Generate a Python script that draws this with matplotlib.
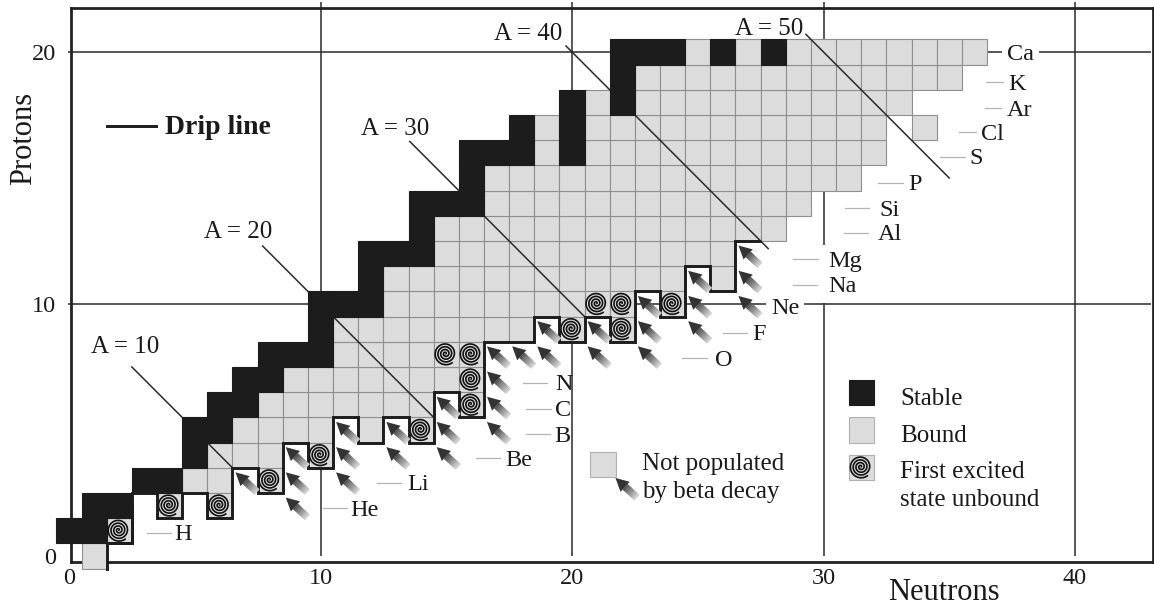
"""Chart of light nuclei: stable, bound and drip-line cells on an N-Z grid."""

import matplotlib

matplotlib.use("Agg")
import matplotlib.pyplot as plt
import numpy as np
from matplotlib.patches import Polygon, Rectangle

plt.rcParams["font.family"] = ["Liberation Serif", "DejaVu Serif"]

W, H = 1154, 609

# cells per proton number Z (list index = Z), values are neutron numbers
stable_n = [
    [], [0, 1], [1, 2], [3, 4], [5], [5, 6], [6, 7], [7, 8], [8, 9, 10], [10],
    [10, 11, 12], [12], [12, 13, 14], [14], [14, 15, 16], [16], [16, 17, 18, 20],
    [18, 20], [20, 22], [22], [22, 23, 24, 26, 28],
]
# (first, last) neutron spans
bound_spans = [
    [(1, 1)], [], [], [(5, 6)], [(6, 8)], [(7, 10), (12, 12)], [(8, 14)], [(9, 15)],
    [(11, 14)], [(11, 18)], [(13, 20)], [(13, 24), (26, 26)], [(15, 26)], [(15, 28)],
    [(17, 29)], [(17, 31)], [(19, 19), (21, 32)], [(19, 19), (21, 32), (34, 34)],
    [(21, 21), (23, 33)], [(23, 35)], [(25, 25), (27, 27), (29, 36)],
]
unbound_n = [
    [], [2], [4, 6], [8], [10], [14], [16], [16], [15, 16], [20, 22], [21, 22, 24],
]
arrow_n = [7, 9, 9, 9, 11, 11, 11, 13, 13, 15, 15, 15, 17, 17, 17, 17, 18, 19, 19,
           21, 21, 23, 23, 23, 25, 25, 25, 27, 27, 27]
arrow_z = [3, 4, 3, 2, 5, 4, 3, 5, 4, 6, 5, 4, 8, 7, 6, 5, 8, 8, 9,
           9, 8, 10, 9, 8, 11, 10, 9, 12, 11, 10]

mass_numbers = [10, 20, 30, 40, 50]
mass_start_n = [2.5, 7.7, 13.55, 19.76, 29.3]
mass_end_n = [6.5, 14.5, 20.5, 27.8, 35.0]

ticks_n = [0, 10, 20, 30, 40]
ticks_z = [0, 10, 20]

# element name, label position and leader span, all in picture pixels
elements = ["H", "He", "Li", "Be", "B", "C", "N", "O", "F", "Na", "Mg", "Al", "Si", "P", "S", "Cl", "Ar", "K"]
label_x = [174, 350, 407, 505, 554, 555, 555, 715, 752, 828, 828, 878, 879, 908, 969, 981, 1007, 1008]
label_y = [533, 508, 483, 458, 434, 409, 383, 358, 333, 285, 259, 233, 208, 183, 157, 132, 108, 82]
leader_x0 = [147, 323, 377, 476, 526, 526, 523, 682, 723, 793, 793, 844, 845, 878, 940, 959, 985, 986]
leader_x1 = [171, 347, 401, 500, 550, 551, 547, 707, 747, 817, 818, 868, 869, 903, 965, 976, 1001, 1003]

COL = {
    "stable": "#1c1c1c",
    "bound": "#dcdcdc",
    "cell": "#8f8f8f",
    "line": "#2a2a2a",
    "leader": "#b4b4b4",
}

fig = plt.figure(figsize=(W / 100, H / 100), dpi=100, facecolor="white")
ax = fig.add_axes([71 / W, 1 - 561.7 / H, (1152.6 - 71) / W, (561.7 - 8) / H])


def _d(px, py):
    """Picture pixels to data coordinates."""
    return (px - 69) / 25.15, (556 - py) / 25.2


def _cell(ax, n, z, fc, ec, zorder):
    ax.add_patch(Rectangle((n - 0.5, z - 0.5), 1, 1, facecolor=fc, edgecolor=ec,
                           linewidth=0.8, clip_on=False, zorder=zorder))


def _spiral(ax, n, z):
    t = np.linspace(0, 4.1 * 2 * np.pi, 400)
    r = 0.45 * t / t[-1]
    a = t + np.deg2rad(-50) - t[-1]
    ax.plot(n - 0.03 + r * np.cos(a), z + 0.03 + r * np.sin(a), color="#111111", lw=1.2,
            clip_on=False, zorder=5, solid_capstyle="butt")


def _arrow(ax, n, z):
    tip = np.array([n - 0.38, z + 0.32])
    tail = np.array([n + 0.47, z - 0.46])
    u = (tip - tail) / np.linalg.norm(tip - tail)
    v = np.array([-u[1], u[0]])
    length = np.linalg.norm(tip - tail)
    base = tip - 0.52 * u
    ax.add_patch(Polygon([tip, base + 0.27 * v, base - 0.27 * v], closed=True,
                         facecolor="#333333", edgecolor="none", zorder=7, clip_on=False))
    steps = np.linspace(0, length - 0.52, 13)
    shades = np.linspace(0.30, 0.82, 12)
    for s0, s1, g in zip(steps[:-1], steps[1:], shades):
        p0, p1 = base - s0 * u, base - s1 * u
        ax.add_patch(Polygon([p0 + 0.14 * v, p1 + 0.14 * v, p1 - 0.14 * v, p0 - 0.14 * v],
                             closed=True, facecolor=str(g), edgecolor=str(g), linewidth=0.3,
                             zorder=7, clip_on=False))


def _txt(px, py, s, fs=18, ha="left", **kw):
    x, y = _d(px, py + 2)
    return ax.text(x, y, s, fontsize=fs, ha=ha, va="center", color="#1a1a1a", zorder=8,
                   clip_on=False, **kw)


# frame and coarse grid
for sp in ax.spines.values():
    sp.set_linewidth(2.0)
    sp.set_color("#222222")
    sp.set_zorder(1.5)
ax.set_facecolor("white")
ax.set_xticks([])
ax.set_yticks(ticks_z)
ax.tick_params(length=0, labelsize=17.5, labelcolor="#1a1a1a")
ax.tick_params(axis="y", pad=11)
ax.set_xlim((71 - 69) / 25.15, (1152.6 - 69) / 25.15)
ax.set_ylim((556 - 561.7) / 25.2, (556 - 8) / 25.2)
for n in ticks_n:
    ax.text(n, _d(0, 578)[1], str(n), fontsize=17.5, ha="center", va="center", color="#1a1a1a",
            clip_on=False)
ax.vlines(ticks_n[1:], 0, _d(0, 2)[1], color=COL["line"], lw=1.1, zorder=1, clip_on=False)
ax.hlines(ticks_z[1:], _d(68, 0)[0], _d(1151, 0)[0], color=COL["line"], lw=1.1, zorder=1, clip_on=False)

# nuclide cells
for z, spans in enumerate(bound_spans):
    for first, last in spans:
        for n in range(first, last + 1):
            _cell(ax, n, z, COL["bound"], COL["cell"], 2)
for z, row in enumerate(unbound_n):
    for n in row:
        _cell(ax, n, z, COL["bound"], COL["cell"], 2)
        _spiral(ax, n, z)
for z, row in enumerate(stable_n):
    for n in row:
        _cell(ax, n, z, COL["stable"], COL["stable"], 4)

# mass number lines
for a, n0, n1 in zip(mass_numbers, mass_start_n, mass_end_n):
    ax.plot([n0, n1], [a - n0, a - n1], color=COL["line"], lw=1.1, zorder=3, clip_on=False)

# drip line: lower edge of the lowest populated cell in each column
filled = {}
for z, row in enumerate(stable_n):
    for n in row:
        filled.setdefault(n, []).append(z)
for z, spans in enumerate(bound_spans):
    for first, last in spans:
        for n in range(first, last + 1):
            filled.setdefault(n, []).append(z)
for z, row in enumerate(unbound_n):
    for n in row:
        filled.setdefault(n, []).append(z)
drip_columns = list(range(2, 28))
drip_floor = [min(filled[n]) - 0.5 for n in drip_columns]
ax.stairs(drip_floor, np.array(drip_columns + [28]) - 0.5, baseline=None, color="#1c1c1c",
          lw=2.1, zorder=6, clip_on=False)
ax.plot([1.5, 1.5, 2.5], [-0.5, 0.5, 0.5], color="#1c1c1c", lw=2.1, zorder=6, clip_on=False)
ax.plot([2.5, 2.5], [0.5, 2.0], color="#1c1c1c", lw=2.1, zorder=6, clip_on=False)

for n, z in zip(arrow_n, arrow_z):
    _arrow(ax, n, z)

# element labels
for name, x, y, x0, x1 in zip(elements, label_x, label_y, leader_x0, leader_x1):
    box = dict(facecolor="white", edgecolor="none", pad=3.6) if name in ("Na", "Mg") else None
    _txt(x, y, name, fs=17.5, bbox=box)
    ax.plot([_d(x0, y)[0], _d(x1, y)[0]], [_d(x0, y)[1]] * 2, color=COL["leader"], lw=0.9,
            zorder=3, clip_on=False)
_txt(771, 307, "Ne", fs=17.5, bbox=dict(facecolor="white", edgecolor="none", pad=3.6))
_txt(1007, 53, "Ca", fs=17.5, bbox=dict(facecolor="white", edgecolor="none", pad=3.6))

# mass number captions
for a, x, y in zip(mass_numbers, [125, 238, 395, 528, 769], [345, 230, 127, 32, 27]):
    _txt(x, y, f"A = {a}", fs=18, ha="center")

# axis titles
_txt(24, 136, "Protons", fs=22, ha="center", rotation=90)
_txt(944, 591, "Neutrons", fs=22, ha="center")

# drip line key
ax.plot([_d(107, 0)[0], _d(156, 0)[0]], [_d(0, 126)[1]] * 2, color="#1c1c1c", lw=2.1, zorder=6)
_txt(165, 126, "Drip line", fs=20, fontweight="bold")

# legends
_cell(ax, *_d(603, 464.5), COL["bound"], "#b0b0b0", 2)
_arrow(ax, *_d(625, 486))
_txt(642, 462, "Not populated", fs=18)
_txt(642, 490, "by beta decay", fs=18)

_cell(ax, *_d(861.5, 392.5), COL["stable"], COL["stable"], 4)
_txt(900, 397, "Stable", fs=18)
_cell(ax, *_d(861.5, 430), COL["bound"], "#b0b0b0", 2)
_txt(900, 434, "Bound", fs=18)
_cell(ax, *_d(861.5, 467.5), COL["bound"], "#b0b0b0", 2)
_spiral(ax, *_d(861.5, 467.5))
_txt(900, 470, "First excited", fs=18)
_txt(900, 498, "state unbound", fs=18)

fig.savefig("out.png", dpi=100, facecolor="white")
plt.close(fig)
